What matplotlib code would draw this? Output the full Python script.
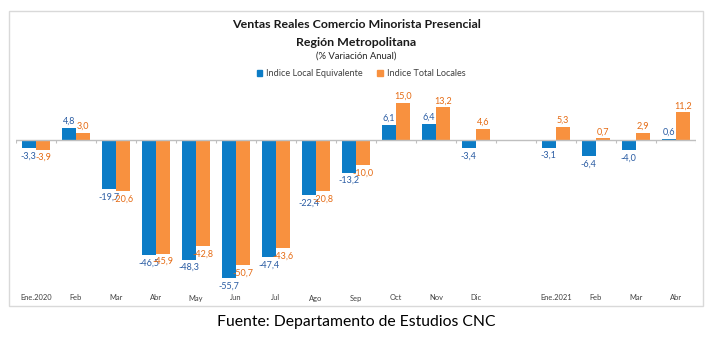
import numpy as np
import matplotlib
matplotlib.use("Agg")
import matplotlib.pyplot as plt
from matplotlib.patches import Patch, Rectangle
from matplotlib.transforms import blended_transform_factory

plt.rcParams['font.family'] = ['Lato', 'DejaVu Sans']

categories = ['Ene.2020', 'Feb', 'Mar', 'Abr', 'May', 'Jun', 'Jul', 'Ago', 'Sep',
              'Oct', 'Nov', 'Dic', '', 'Ene.2021', 'Feb', 'Mar', 'Abr']
local_equiv = [-3.3, 4.8, -19.7, -46.5, -48.3, -55.7, -47.4, -22.4, -13.2,
               6.1, 6.4, -3.4, np.nan, -3.1, -6.4, -4.0, 0.6]
total_locales = [-3.9, 3.0, -20.6, -45.9, -42.8, -50.7, -43.6, -20.8, -10.0,
                 15.0, 13.2, 4.6, np.nan, 5.3, 0.7, 2.9, 11.2]
series_names = ['Indice Local Equivalente', 'Indice Total Locales']

BLUE = '#0C7CC6'
ORANGE = '#F8913F'
BLUE_TXT = '#2A5CA3'
ORANGE_TXT = '#E56A12'

W, H = 720, 338
fig = plt.figure(figsize=(W / 100, H / 100), dpi=100)

def fx(px):
    return px / W

def fy(py):
    return 1 - py / H

# frame
fig.patches.append(Rectangle((fx(9), fy(306)), fx(703) - fx(9), fy(11) - fy(306),
                             transform=fig.transFigure, fill=False,
                             edgecolor='#D9D9D9', linewidth=1.0))

ax = fig.add_axes([fx(16), fy(290), fx(696) - fx(16), fy(92) - fy(290)])
ax.set_xlim(-0.5, len(categories) - 0.5)
ax.set_ylim(-60.6, 19.4)
ax.axis('off')

x = np.arange(len(categories))
bw = 0.36
ax.bar(x - bw / 2, local_equiv, width=bw, color=BLUE, zorder=2)
ax.bar(x + bw / 2, total_locales, width=bw, color=ORANGE, zorder=2)

# zero line with boundary ticks
ax.axhline(0, color='#BFBFBF', linewidth=1.0, zorder=3)
bounds = np.arange(len(categories) + 1) - 0.5
ax.vlines(bounds, -1.2, 0, color='#BFBFBF', linewidth=0.8, zorder=3)

def fmt(v):
    return f"{v:.1f}".replace('.', ',')

for xs, vals, col in [(x - bw / 2, local_equiv, BLUE_TXT), (x + bw / 2, total_locales, ORANGE_TXT)]:
    for xi, v in zip(xs, vals):
        if np.isnan(v):
            continue
        if v >= 0:
            ax.annotate(fmt(v), (xi, v), xytext=(0, 1.5), textcoords='offset points',
                        ha='center', va='bottom', fontsize=6.5, color=col, zorder=4)
        else:
            ax.annotate(fmt(v), (xi, v), xytext=(0, -2.5), textcoords='offset points',
                        ha='center', va='top', fontsize=6.5, color=col, zorder=4)

trans = blended_transform_factory(ax.transData, fig.transFigure)
for xi, c in zip(x, categories):
    ax.text(xi, fy(298), c, transform=trans, ha='center', va='center',
            fontsize=5.4, color='#404040', clip_on=False)

# titles
fig.text(fx(356), fy(24), 'Ventas Reales Comercio Minorista Presencial', ha='center', va='center',
         fontsize=8.9, fontweight='bold', color='#1A1A1A')
fig.text(fx(356), fy(42), 'Región Metropolitana', ha='center', va='center',
         fontsize=8.9, fontweight='bold', color='#1A1A1A')
fig.text(fx(356), fy(56), '(% Variación Anual)', ha='center', va='center',
         fontsize=6.8, color='#262626')

handles = [Patch(color=BLUE), Patch(color=ORANGE)]
fig.legend(handles, series_names, loc='center', bbox_to_anchor=(fx(361), fy(74)),
           ncol=2, frameon=False, fontsize=6.6, handlelength=0.6, handleheight=0.6,
           handletextpad=0.4, columnspacing=1.6, labelcolor='#404040')

fig.text(fx(356), fy(322), 'Fuente: Departamento de Estudios CNC', ha='center', va='center',
         fontsize=11.3, color='black')

fig.savefig('out.png', dpi=100)
